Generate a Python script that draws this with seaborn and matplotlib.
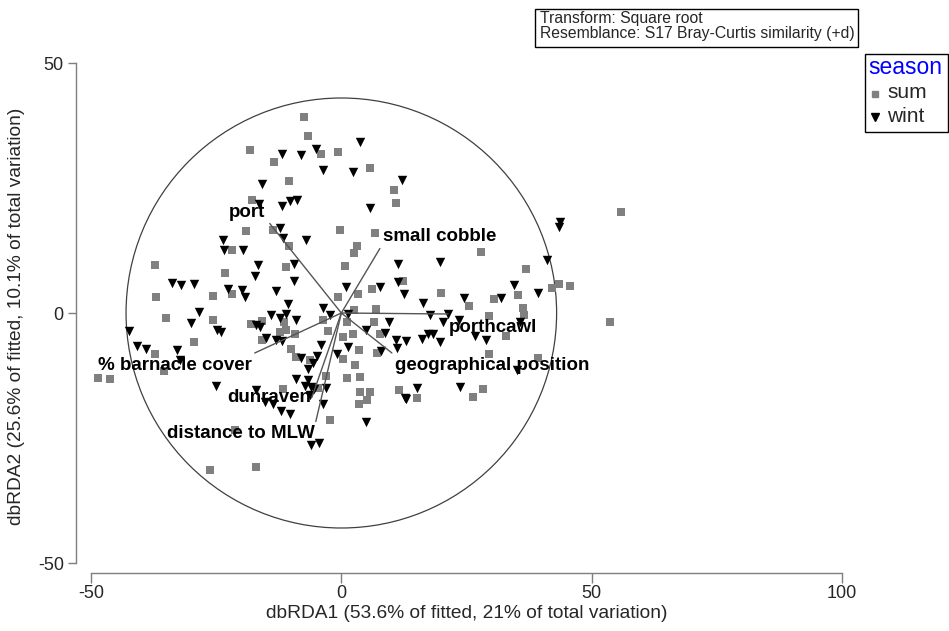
import matplotlib
matplotlib.use("Agg")
import matplotlib.pyplot as plt
import seaborn as sns
import pandas as pd
from matplotlib.patches import Circle, Rectangle
from matplotlib.lines import Line2D

# ---- sample scores on the first two dbRDA axes ----
sum_x = [-18.2, -13.5, -10.4, -17.8, -19.0, -13.6, -21.8, -37.2, -23.2, -11.0,
         -21.8, -25.7, -37.1, -7.4, -6.6, -4.0, -0.6, 5.7, 10.5, 11.0,
         -0.3, 6.7, -10.5, 3.2, 2.5, 27.8, 0.8, 12.4, -0.6, 3.4,
         6.1, 20.0, 55.8, 36.9, 42.0, 43.4, 45.7, 30.4, 35.2, 25.4,
         36.2, 36.4, 29.4, 53.7, 32.9, 29.4, 39.2, 28.2, 26.2, -35.0,
         -25.6, -18.0, -15.8, -11.5, -11.0, -15.8, -29.4, -37.2, -48.6, -46.2,
         -35.5, -11.6, -21.3, -26.3, -17.1, 2.5, 7.0, 6.5, 1.2, -3.6,
         -12.3, -9.3, 7.7, 2.4, 0.4, -2.7, -10.1, 3.5, 7.2, -6.3,
         0.4, 2.7, 1.2, 3.8, -3.0, -4.7, 3.7, 5.7, 5.2, 3.6,
         11.6, 15.2, -2.2, -9.0]
sum_y = [32.7, 30.3, 26.4, 22.7, 16.4, 16.6, 12.6, 9.7, 8.1, 9.2,
         3.9, 3.4, 3.3, 39.3, 35.5, 31.9, 32.3, 29.1, 24.7, 22.1,
         16.7, 16.1, 13.4, 13.4, 12.1, 12.3, 9.5, 6.5, 3.2, 3.9,
         4.8, 4.1, 20.3, 8.9, 5.1, 5.8, 5.4, 2.9, 3.6, 1.5,
         1.1, -0.4, -0.6, -1.7, -4.5, -8.1, -8.9, -15.1, -16.7, -0.9,
         -1.3, -2.1, -1.5, -1.7, -3.4, -5.4, -5.7, -8.1, -12.9, -13.1,
         -11.6, -15.1, -23.3, -31.4, -30.7, 0.6, 0.8, -1.7, -1.7, -1.3,
         -3.7, -4.2, -4.2, -4.1, -4.7, -3.5, -7.1, -7.3, -7.9, -9.3,
         -9.1, -10.4, -12.9, -12.7, -12.6, -14.9, -15.7, -15.7, -17.4, -18.2,
         -15.4, -16.9, -21.3, -8.7]

wint_x = [-11.8, -15.8, -16.4, -11.8, -10.2, -8.8, -12.3, -11.6, -23.6, -23.5,
          -19.6, -16.6, -17.3, -33.8, -32.1, -29.4, -22.6, -19.9, -19.3, -13.1,
          3.7, -5.0, -8.0, -3.6, 2.4, 12.2, 5.7, -7.1, 11.4, 19.7,
          -9.4, -9.4, 11.4, 0.9, 7.8, 12.5, 24.5, 43.6, 43.4, 41.0,
          34.5, 39.2, 31.8, 35.7, 26.7, 28.9, 35.0, 23.7, 16.4, -3.6,
          -2.3, 1.4, 17.7, 21.4, 20.4, 23.6, 9.6, -14.0, -12.2, -11.0,
          -9.0, -15.0, -13.1, -11.8, 5.0, 8.7, 10.9, 13.0, 16.2, 17.4,
          18.4, 19.7, 11.2, -4.0, -0.8, 1.4, 8.0, -8.0, -4.8, -5.6,
          -6.6, -9.1, -6.6, -7.3, -6.0, -5.5, -3.1, -6.3, -3.6, 15.2,
          12.7, 13.0, -12.0, -10.3, 4.9, -6.0, -4.4, -28.4, -30.0, -24.8,
          -24.0, -16.3, -17.0, -42.4, -40.8, -39.0, -32.8, -32.3, -25.0, -17.0,
          -15.3, -13.6, -10.6]
wint_y = [31.9, 25.8, 21.8, 21.5, 22.4, 22.7, 17.1, 15.0, 14.6, 12.6,
          12.6, 9.7, 7.5, 6.1, 5.6, 5.9, 4.9, 4.7, 3.3, 4.5,
          34.3, 32.9, 31.6, 28.7, 28.3, 26.7, 21.1, 14.7, 9.9, 10.3,
          9.9, 6.5, 6.3, 5.3, 5.2, 3.9, 3.1, 18.3, 17.3, 10.7,
          5.6, 4.1, 3.1, -1.7, -4.6, -5.3, -11.4, -14.7, 2.1, 1.1,
          -0.4, -0.2, -0.4, -0.1, -1.7, -1.3, -1.7, -0.3, -0.9, -0.1,
          -1.3, -4.9, -5.3, -5.5, -3.3, -3.9, -5.4, -5.5, -5.1, -4.2,
          -4.1, -5.7, -6.9, -6.4, -8.1, -6.7, -7.6, -8.9, -8.6, -9.9,
          -11.1, -13.1, -13.4, -14.6, -14.7, -15.1, -14.9, -16.4, -18.1, -14.9,
          -16.9, -17.1, -19.5, -20.1, -21.7, -26.4, -25.9, 0.3, -1.9, -3.4,
          -3.7, -2.7, -2.4, -3.5, -6.5, -7.2, -7.4, -9.3, -14.6, -15.4,
          -17.7, -18.1, 1.8]

# ---- predictor vectors (multiple partial correlations, scaled to the circle) ----
vec_names = ["port", "small cobble", "porthcawl", "geographical position",
             "% barnacle cover", "dunraven", "distance to MLW"]
vec_x = [-14.3, 7.7, 21.3, 10.1, -17.3, -5.9, -5.1]
vec_y = [17.9, 12.9, -0.2, -8.0, -8.0, -16.9, -21.7]
circle_radius = 43.0

x_ticks = [-50, 0, 50, 100]
y_ticks = [-50, 0, 50]
x_title = "dbRDA1 (53.6% of fitted, 21% of total variation)"
y_title = "dbRDA2 (25.6% of fitted, 10.1% of total variation)"

sns.set_style("white")
plt.rcParams["font.family"] = ["Liberation Sans", "DejaVu Sans"]
plt.rcParams["axes.unicode_minus"] = False

W, H = 949, 631
fig = plt.figure(figsize=(W / 100, H / 100), dpi=100)
ax = fig.add_axes([91 / W, (H - 563) / H, 751 / W, 500 / H])

df = pd.concat([
    pd.DataFrame({"dbRDA1": sum_x, "dbRDA2": sum_y, "season": "sum"}),
    pd.DataFrame({"dbRDA1": wint_x, "dbRDA2": wint_y, "season": "wint"}),
], ignore_index=True)

sns.scatterplot(data=df[df.season == "sum"], x="dbRDA1", y="dbRDA2",
                marker="s", color="#808080", s=34, linewidth=0,
                legend=False, ax=ax, zorder=2)
sns.scatterplot(data=df[df.season == "wint"], x="dbRDA1", y="dbRDA2",
                marker="v", color="black", s=46, linewidth=0,
                legend=False, ax=ax, zorder=2)

ax.add_patch(Circle((0, 0), circle_radius, fill=False, edgecolor="#404040",
                    linewidth=0.9, zorder=1))

# label placement relative to each vector tip (ha, va, dx, dy)
label_place = {
    "port": ("center", "center", -4.6, 2.2),
    "small cobble": ("left", "center", 0.6, 2.4),
    "porthcawl": ("left", "center", 0.1, -2.6),
    "geographical position": ("left", "center", 0.6, -2.6),
    "% barnacle cover": ("right", "center", -0.6, -2.6),
    "dunraven": ("right", "center", -0.2, -0.1),
    "distance to MLW": ("right", "center", -0.2, -2.4),
}
for name, vx, vy in zip(vec_names, vec_x, vec_y):
    ax.plot([0, vx], [0, vy], color="#555555", linewidth=1.0, zorder=3)
    ha, va, dx, dy = label_place[name]
    ax.text(vx + dx, vy + dy, name, ha=ha, va=va, fontsize=13.5,
            fontweight="bold", color="black", zorder=4)

ax.set_xlim(-50, 100)
ax.set_ylim(-50, 50)
ax.set_xticks(x_ticks)
ax.set_yticks(y_ticks)
ax.set_xlabel(x_title, fontsize=13.8)
ax.set_ylabel(y_title, fontsize=13.8)
ax.xaxis.set_label_coords(0.5, -0.084)
ax.yaxis.set_label_coords(-0.088, 0.494)

for side in ("top", "right"):
    ax.spines[side].set_visible(False)
ax.spines["left"].set_position(("outward", 10.8))
ax.spines["bottom"].set_position(("outward", 7.2))
for side in ("left", "bottom"):
    ax.spines[side].set_color("#7f7f7f")
    ax.spines[side].set_linewidth(1.0)
ax.tick_params(axis="y", direction="out", length=5.8, width=1.0,
               color="#7f7f7f", labelsize=13, pad=3, left=True)
ax.tick_params(axis="x", direction="out", length=7.0, width=1.0,
               color="#7f7f7f", labelsize=13, pad=2, bottom=True)
ax.set_facecolor("white")

# analysis notes box
fig.add_artist(Rectangle((535 / W, 1 - 47 / H), (858 - 535) / W, (47 - 9) / H,
                         transform=fig.transFigure, fill=False,
                         edgecolor="black", linewidth=1.0))
fig.text(540 / W, 1 - 18.5 / H, "Transform: Square root", ha="left",
         va="center", fontsize=11.3)
fig.text(540 / W, 1 - 33.5 / H, "Resemblance: S17 Bray-Curtis similarity (+d)",
         ha="left", va="center", fontsize=11.3)

# season key
fig.add_artist(Rectangle((865 / W, 1 - 132 / H), (948 - 865) / W, (132 - 54) / H,
                         transform=fig.transFigure, fill=False,
                         edgecolor="black", linewidth=1.0))
fig.text(868 / W, 1 - 68 / H, "season", color="blue", ha="left", va="center",
         fontsize=16.5)
fig.add_artist(Line2D([875 / W], [1 - 94 / H], marker="s", color="#808080",
                      markersize=5, linestyle="", transform=fig.transFigure))
fig.add_artist(Line2D([875 / W], [1 - 117 / H], marker="v", color="black",
                      markersize=6, linestyle="", transform=fig.transFigure))
fig.text(887 / W, 1 - 93 / H, "sum", ha="left", va="center", fontsize=15)
fig.text(887 / W, 1 - 116 / H, "wint", ha="left", va="center", fontsize=15)

fig.savefig("out.png", dpi=100, facecolor="white")
